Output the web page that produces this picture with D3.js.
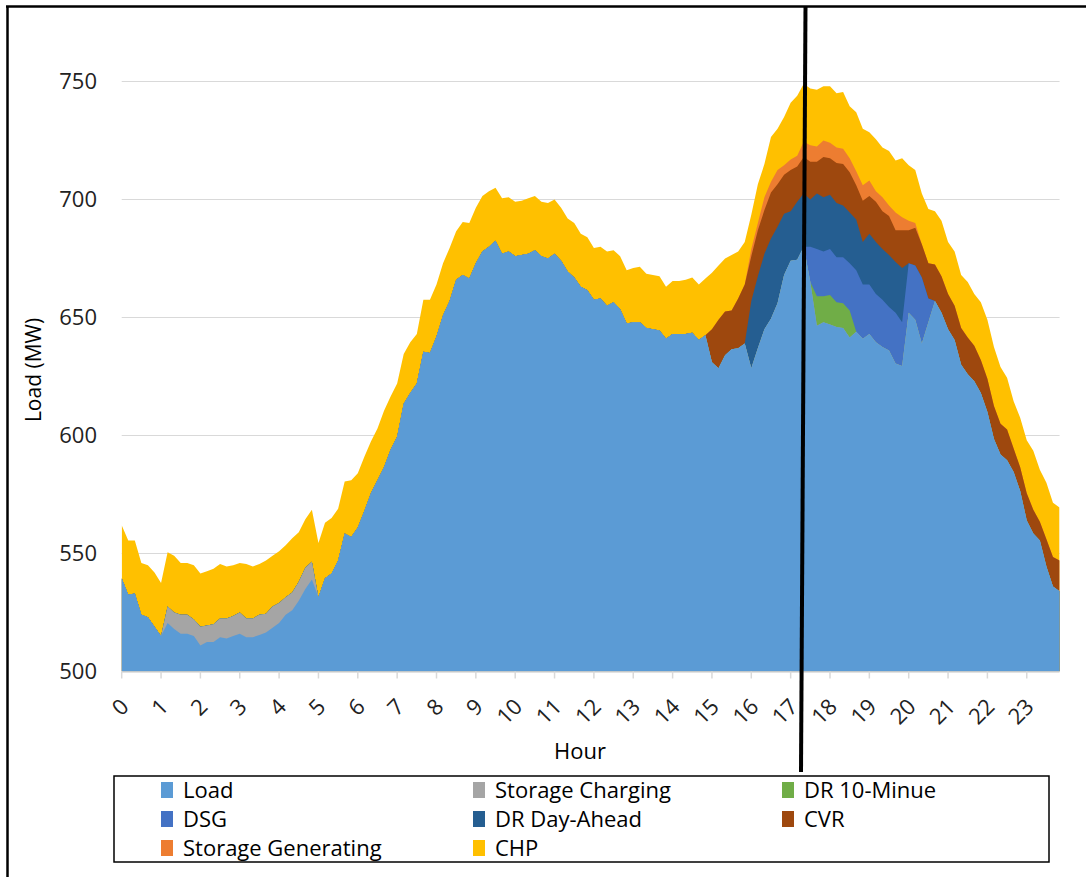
<!DOCTYPE html>
<html>
<head>
<meta charset="utf-8">
<script src="https://cdn.jsdelivr.net/npm/d3@7"></script>
<style>
  body { margin: 0; background: #fff; }
  text { font-family: "Open Sans", sans-serif; }
</style>
</head>
<body>
<svg id="chart" width="1086" height="877"></svg>
<script>
// 10-minute steps, 00:00 .. 23:50
const steps = d3.range(144);
const hourTicks = d3.range(24);
const yTicks = [500, 550, 600, 650, 700, 750];

// series values in MW (one row = 2 hours)
const load = [
  539.5, 532.5, 533, 524, 523, 519, 515, 520.5, 518, 516, 516, 515,
  511, 512.5, 512.5, 514.5, 514, 515, 516, 514.5, 514.5, 515.5, 516.5, 518.5,
  520.5, 524, 526, 530, 535, 539, 531.5, 539.5, 541.5, 547, 558.5, 557,
  561, 568, 575.5, 581, 586.5, 594, 599.5, 613.5, 618, 622, 635.5, 635,
  642, 651, 657, 666, 668, 666.5, 673, 678, 680, 682.5, 677, 678,
  676, 676.5, 677, 678.5, 676, 675, 677, 674, 669.5, 667, 663, 661.5,
  657.5, 658, 655, 656.5, 653.5, 647.5, 648, 648, 645.5, 645, 644.5, 641,
  643, 643, 643, 643.5, 640.5, 642.5, 631, 628.5, 634, 636.5, 637, 639,
  628.5, 637, 645, 649.5, 656, 668, 674, 674.5, 680, 665, 646.5, 648,
  647, 646, 645.5, 641.5, 644, 641, 643, 639.5, 637.5, 636, 630.5, 629.5,
  652, 649, 639, 648, 657, 652, 645, 640.5, 630, 626, 623, 618,
  610, 598.5, 592, 589.5, 584.5, 576.5, 564, 558.5, 555.5, 544.5, 536, 534
];
const storageCharging = [
  0, 0, 0, 0, 0, 0, 0, 7, 7, 8, 8, 7,
  8, 7, 7.5, 8, 8.5, 8.5, 9, 8, 8, 8.5, 8, 9,
  8.5, 7.5, 7.5, 8, 9, 7.5, 0, 0, 0, 0, 0, 0,
  0, 0, 0, 0, 0, 0, 0, 0, 0, 0, 0, 0,
  0, 0, 0, 0, 0, 0, 0, 0, 0, 0, 0, 0,
  0, 0, 0, 0, 0, 0, 0, 0, 0, 0, 0, 0,
  0, 0, 0, 0, 0, 0, 0, 0, 0, 0, 0, 0,
  0, 0, 0, 0, 0, 0, 0, 0, 0, 0, 0, 0,
  0, 0, 0, 0, 0, 0, 0, 0, 0, 0, 0, 0,
  0, 0, 0, 0, 0, 0, 0, 0, 0, 0, 0, 0,
  0, 0, 0, 0, 0, 0, 0, 0, 0, 0, 0, 0,
  0, 0, 0, 0, 0, 0, 0, 0, 0, 0, 0, 0
];
const dr10Minute = [
  0, 0, 0, 0, 0, 0, 0, 0, 0, 0, 0, 0,
  0, 0, 0, 0, 0, 0, 0, 0, 0, 0, 0, 0,
  0, 0, 0, 0, 0, 0, 0, 0, 0, 0, 0, 0,
  0, 0, 0, 0, 0, 0, 0, 0, 0, 0, 0, 0,
  0, 0, 0, 0, 0, 0, 0, 0, 0, 0, 0, 0,
  0, 0, 0, 0, 0, 0, 0, 0, 0, 0, 0, 0,
  0, 0, 0, 0, 0, 0, 0, 0, 0, 0, 0, 0,
  0, 0, 0, 0, 0, 0, 0, 0, 0, 0, 0, 0,
  0, 0, 0, 0, 0, 0, 0, 0, 0, 0, 12.5, 11,
  12.5, 10.5, 10.5, 11.5, 0, 0, 0, 0, 0, 0, 0, 0,
  0, 0, 0, 0, 0, 0, 0, 0, 0, 0, 0, 0,
  0, 0, 0, 0, 0, 0, 0, 0, 0, 0, 0, 0
];
const dsg = [
  0, 0, 0, 0, 0, 0, 0, 0, 0, 0, 0, 0,
  0, 0, 0, 0, 0, 0, 0, 0, 0, 0, 0, 0,
  0, 0, 0, 0, 0, 0, 0, 0, 0, 0, 0, 0,
  0, 0, 0, 0, 0, 0, 0, 0, 0, 0, 0, 0,
  0, 0, 0, 0, 0, 0, 0, 0, 0, 0, 0, 0,
  0, 0, 0, 0, 0, 0, 0, 0, 0, 0, 0, 0,
  0, 0, 0, 0, 0, 0, 0, 0, 0, 0, 0, 0,
  0, 0, 0, 0, 0, 0, 0, 0, 0, 0, 0, 0,
  0, 0, 0, 0, 0, 0, 0, 0, 0, 15, 20, 19,
  19.5, 19, 19.5, 20, 26, 23, 21, 20.5, 20, 18.5, 21.5, 18.5,
  21, 23, 28, 10, 0, 0, 0, 0, 0, 0, 0, 0,
  0, 0, 0, 0, 0, 0, 0, 0, 0, 0, 0, 0
];
const drDayAhead = [
  0, 0, 0, 0, 0, 0, 0, 0, 0, 0, 0, 0,
  0, 0, 0, 0, 0, 0, 0, 0, 0, 0, 0, 0,
  0, 0, 0, 0, 0, 0, 0, 0, 0, 0, 0, 0,
  0, 0, 0, 0, 0, 0, 0, 0, 0, 0, 0, 0,
  0, 0, 0, 0, 0, 0, 0, 0, 0, 0, 0, 0,
  0, 0, 0, 0, 0, 0, 0, 0, 0, 0, 0, 0,
  0, 0, 0, 0, 0, 0, 0, 0, 0, 0, 0, 0,
  0, 0, 0, 0, 0, 0, 0, 0, 0, 0, 0, 0,
  28.5, 30.5, 32, 34, 32.5, 26, 21, 24.5, 22.5, 20, 23.5, 23,
  23, 23, 22, 21.5, 21.5, 18, 21.5, 22, 21.5, 22, 21.5, 23,
  0, 0, 0, 0, 0, 0, 0, 0, 0, 0, 0, 0,
  0, 0, 0, 0, 0, 0, 0, 0, 0, 0, 0, 0
];
const cvr = [
  0, 0, 0, 0, 0, 0, 0, 0, 0, 0, 0, 0,
  0, 0, 0, 0, 0, 0, 0, 0, 0, 0, 0, 0,
  0, 0, 0, 0, 0, 0, 0, 0, 0, 0, 0, 0,
  0, 0, 0, 0, 0, 0, 0, 0, 0, 0, 0, 0,
  0, 0, 0, 0, 0, 0, 0, 0, 0, 0, 0, 0,
  0, 0, 0, 0, 0, 0, 0, 0, 0, 0, 0, 0,
  0, 0, 0, 0, 0, 0, 0, 0, 0, 0, 0, 0,
  0, 0, 0, 0, 0, 0, 14, 20.5, 18.5, 16.5, 21, 25,
  19, 19.5, 18.5, 19.5, 18, 16.5, 17.5, 15, 15.5, 16, 13.5, 17,
  15.5, 17, 17.5, 17, 14.5, 17.5, 16, 17, 16, 16.5, 13.5, 16,
  14, 16, 14, 15, 15.5, 15.5, 15, 14.5, 15.5, 15.5, 15, 14,
  14, 14, 13, 13, 10, 10, 11.5, 10, 8, 11.5, 12.5, 13
];
const storageGenerating = [
  0, 0, 0, 0, 0, 0, 0, 0, 0, 0, 0, 0,
  0, 0, 0, 0, 0, 0, 0, 0, 0, 0, 0, 0,
  0, 0, 0, 0, 0, 0, 0, 0, 0, 0, 0, 0,
  0, 0, 0, 0, 0, 0, 0, 0, 0, 0, 0, 0,
  0, 0, 0, 0, 0, 0, 0, 0, 0, 0, 0, 0,
  0, 0, 0, 0, 0, 0, 0, 0, 0, 0, 0, 0,
  0, 0, 0, 0, 0, 0, 0, 0, 0, 0, 0, 0,
  0, 0, 0, 0, 0, 0, 0, 0, 0, 0, 0, 0,
  3, 3, 5.5, 4.5, 6, 4, 4.5, 4.5, 6.5, 7, 6.5, 7,
  6.5, 6.5, 6.5, 6, 6, 6.5, 6.5, 4.5, 6, 4.5, 7.5, 5.5,
  4, 2, 0, 0, 0, 0, 0, 0, 0, 0, 0, 0,
  0, 0, 0, 0, 0, 0, 0, 0, 0, 0, 0, 0
];
const chp = [
  22.5, 23, 22.5, 22, 22, 23, 22.5, 23, 24, 22, 22, 23,
  22.5, 23, 23.5, 23, 22, 21.5, 21, 23, 22, 21.5, 22.5, 21.5,
  22, 22, 23, 21, 20.5, 22, 23, 23.5, 23.5, 22, 22, 24,
  23, 23, 22, 22, 24, 22.5, 22.5, 21, 21.5, 21, 22, 22.5,
  22, 22, 22.5, 20.5, 22.5, 23.5, 23.5, 23.5, 23.5, 22.5, 23.5, 23,
  23, 23, 23.5, 23, 23, 23.5, 23, 22.5, 22.5, 23, 22.5, 22.5,
  22, 22, 23, 22, 22.5, 22.5, 23, 23.5, 23, 23, 23, 22,
  22.5, 22.5, 23, 23.5, 23.5, 24, 24, 23, 22.5, 23.5, 20, 18,
  14.5, 16.5, 14, 19, 17.5, 20.5, 24, 25.5, 24.5, 24, 24, 23,
  24, 23, 24, 22, 25, 24, 20.5, 22, 21, 23, 22, 25,
  23.5, 22.5, 21.5, 23, 22.5, 23.5, 22, 23, 22.5, 23.5, 22, 24.5,
  25, 25, 24, 22, 20, 21, 22.5, 25, 22, 24, 23, 22.5
];

const seriesNames = ["Load", "Storage Charging", "DR 10-Minue", "DSG",
  "DR Day-Ahead", "CVR", "Storage Generating", "CHP"];
const seriesValues = [load, storageCharging, dr10Minute, dsg,
  drDayAhead, cvr, storageGenerating, chp];
const seriesColors = ["#5b9bd5", "#a5a5a5", "#70ad47", "#4472c4",
  "#255e91", "#9e480e", "#ed7d31", "#ffc000"];

// table for d3.stack
const rows = steps.map(i => {
  let r = { step: i };
  seriesNames.forEach((n, k) => r[n] = seriesValues[k][i]);
  return r;
});
const stacked = d3.stack().keys(seriesNames)(rows);

const svg = d3.select("#chart");

const x = d3.scaleLinear().domain([0, 24]).range([121.7, 121.7 + 24 * 39.35]);
const y = d3.scaleLinear().domain([500, 750]).range([671.5, 81.5]);
const xLeft = x(0), xRight = x(143 / 6);

// gridlines
svg.append("g").selectAll("line")
  .data(yTicks.slice(1))
  .join("line")
  .attr("x1", xLeft).attr("x2", xRight)
  .attr("y1", d => y(d)).attr("y2", d => y(d))
  .attr("stroke", "#d9d9d9").attr("stroke-width", 1.2);

svg.append("defs").append("clipPath").attr("id", "plot")
  .append("rect")
  .attr("x", xLeft).attr("y", 0)
  .attr("width", xRight - xLeft).attr("height", y(500));

// each layer filled down to the base, top layer first, so no seams show
const plot = svg.append("g").attr("clip-path", "url(#plot)");
const areaGen = d3.area()
  .x((d, i) => x(i / 6))
  .y0(y(500))
  .y1(d => y(d[1]));
plot.selectAll("path")
  .data(stacked.slice().reverse())
  .join("path")
  .attr("d", areaGen)
  .attr("fill", d => seriesColors[d.index]);

// x axis line and ticks
svg.append("line")
  .attr("x1", xLeft).attr("x2", xRight)
  .attr("y1", y(500) + 0.5).attr("y2", y(500) + 0.5)
  .attr("stroke", "#d9d9d9").attr("stroke-width", 1.5);
svg.append("g").selectAll("line")
  .data(hourTicks)
  .join("line")
  .attr("x1", d => x(d)).attr("x2", d => x(d))
  .attr("y1", y(500)).attr("y2", y(500) + 7)
  .attr("stroke", "#d9d9d9").attr("stroke-width", 1.5);

// x tick labels, rotated
svg.append("g").selectAll("text")
  .data(hourTicks)
  .join("text")
  .attr("transform", d => `translate(${x(d) + 8.5},708) rotate(-45)`)
  .attr("text-anchor", "end")
  .attr("font-size", 22)
  .attr("fill", "#222")
  .text(d => d);

// y tick labels
svg.append("g").selectAll("text")
  .data(yTicks)
  .join("text")
  .attr("x", 97).attr("y", d => y(d))
  .attr("dy", "0.35em")
  .attr("text-anchor", "end")
  .attr("font-size", 22)
  .attr("fill", "#222")
  .text(d => d);

// axis titles
svg.append("text")
  .attr("x", 580).attr("y", 759)
  .attr("text-anchor", "middle")
  .attr("font-size", 22)
  .text("Hour");
svg.append("text")
  .attr("transform", "translate(41,370) rotate(-90)")
  .attr("text-anchor", "middle")
  .attr("font-size", 21)
  .text("Load (MW)");

// legend
svg.append("rect")
  .attr("x", 114).attr("y", 776)
  .attr("width", 935).attr("height", 86)
  .attr("fill", "none").attr("stroke", "#000").attr("stroke-width", 1.5);
const legendCols = [161, 473, 782];
const legendRows = [790, 819, 848];
const legend = svg.append("g").selectAll("g")
  .data(seriesNames)
  .join("g")
  .attr("transform", (d, i) => `translate(${legendCols[i % 3]},${legendRows[Math.floor(i / 3)]})`);
legend.append("rect")
  .attr("x", 0).attr("y", -8)
  .attr("width", 12).attr("height", 16)
  .attr("fill", (d, i) => seriesColors[i]);
legend.append("text")
  .attr("x", 22).attr("dy", "0.35em")
  .attr("font-size", 22)
  .text(d => d);

// frame and the marker line
svg.append("line")
  .attr("x1", 7.5).attr("x2", 7.5).attr("y1", 6).attr("y2", 877)
  .attr("stroke", "#000").attr("stroke-width", 2.5);
svg.append("line")
  .attr("x1", 6).attr("x2", 1086).attr("y1", 6.5).attr("y2", 6.5)
  .attr("stroke", "#000").attr("stroke-width", 2.5);
svg.append("line")
  .attr("x1", 805.5).attr("x2", 801).attr("y1", 6).attr("y2", 772)
  .attr("stroke", "#000").attr("stroke-width", 4);
</script>
</body>
</html>
